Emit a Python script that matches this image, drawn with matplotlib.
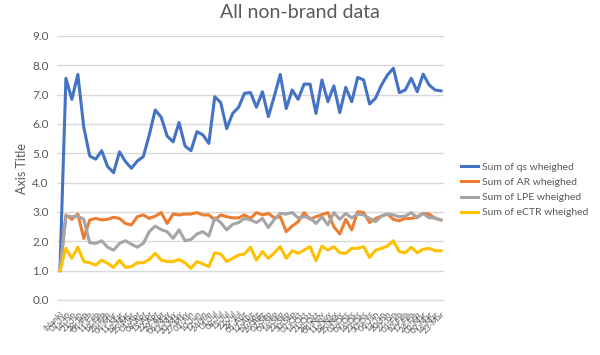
import numpy as np
import pandas as pd
import matplotlib
matplotlib.use("Agg")
import matplotlib.pyplot as plt

plt.rcParams['font.family'] = ['Lato', 'DejaVu Sans']

# values
qs = [1.06, 7.56, 6.84, 7.69, 5.89, 4.91, 4.80, 5.09, 4.55, 4.34, 5.05, 4.72, 4.49,
      4.74, 4.89, 5.63, 6.48, 6.23, 5.59, 5.39, 6.05, 5.25, 5.09, 5.74, 5.63, 5.34,
      6.93, 6.73, 5.84, 6.36, 6.57, 7.05, 7.07, 6.57, 7.10, 6.25, 6.95, 7.69, 6.53,
      7.16, 6.84, 7.36, 7.36, 6.36, 7.50, 6.76, 7.30, 6.39, 7.25, 6.76, 7.59, 7.50,
      6.68, 6.88, 7.33, 7.67, 7.90, 7.07, 7.16, 7.56, 7.10, 7.70, 7.33, 7.16, 7.13]
ar = [1.00, 2.90, 2.75, 2.93, 2.10, 2.73, 2.78, 2.73, 2.75, 2.82, 2.78, 2.61, 2.56,
      2.84, 2.90, 2.78, 2.86, 2.98, 2.61, 2.93, 2.90, 2.93, 2.93, 2.98, 2.90, 2.90,
      2.73, 2.90, 2.84, 2.80, 2.80, 2.90, 2.78, 2.98, 2.90, 2.95, 2.80, 2.84, 2.33,
      2.52, 2.67, 2.98, 2.75, 2.84, 2.91, 2.98, 2.50, 2.25, 2.75, 2.39, 3.01, 2.98,
      2.64, 2.78, 2.86, 2.93, 2.75, 2.70, 2.78, 2.78, 2.84, 2.95, 2.93, 2.78, 2.73]
lpe = [1.00, 2.86, 2.84, 2.86, 2.75, 1.95, 1.93, 2.02, 1.80, 1.70, 1.93, 2.02, 1.90,
       1.80, 1.93, 2.33, 2.52, 2.40, 2.33, 2.10, 2.39, 2.02, 2.06, 2.25, 2.33, 2.18,
       2.80, 2.64, 2.39, 2.58, 2.64, 2.78, 2.73, 2.64, 2.78, 2.47, 2.75, 2.95, 2.93,
       2.98, 2.80, 2.84, 2.80, 2.61, 2.84, 2.56, 2.98, 2.75, 2.95, 2.80, 2.93, 2.90,
       2.78, 2.67, 2.86, 2.93, 2.90, 2.84, 2.86, 2.98, 2.80, 2.95, 2.80, 2.80, 2.73]
ectr = [1.00, 1.76, 1.42, 1.80, 1.31, 1.27, 1.19, 1.36, 1.25, 1.11, 1.36, 1.11, 1.14,
        1.27, 1.27, 1.38, 1.59, 1.36, 1.31, 1.31, 1.38, 1.27, 1.08, 1.31, 1.23, 1.14,
        1.61, 1.57, 1.31, 1.42, 1.53, 1.57, 1.80, 1.36, 1.65, 1.42, 1.61, 1.82, 1.42,
        1.68, 1.59, 1.70, 1.82, 1.34, 1.84, 1.70, 1.82, 1.61, 1.59, 1.76, 1.76, 1.82,
        1.45, 1.70, 1.76, 1.84, 2.02, 1.65, 1.61, 1.80, 1.61, 1.73, 1.76, 1.68, 1.68]

# category labels (dense, unreadable in the reference)
labels = ['(blank)'] + [d.strftime('%d-%b') for d in pd.date_range('2019-01-07', periods=len(qs) - 1, freq='7D')]

x = np.arange(len(qs))

fig = plt.figure(figsize=(6, 3.55), dpi=100)
ax = fig.add_axes([57 / 600, 1 - 300 / 355, (444 - 57) / 600, (300 - 36) / 355])

ax.plot(x, qs, color='#4472C4', lw=2.2, label='Sum of qs wheighed')
ax.plot(x, ar, color='#ED7D31', lw=2.2, label='Sum of AR wheighed')
ax.plot(x, lpe, color='#A5A5A5', lw=2.2, label='Sum of LPE wheighed')
ax.plot(x, ectr, color='#FFC000', lw=2.2, label='Sum of eCTR wheighed')

ax.set_xlim(-0.5, len(qs) - 0.5)
ax.set_ylim(0, 9)
ax.set_yticks(np.arange(0, 9.5, 1.0))
ax.set_yticklabels([f'{v:.1f}' for v in np.arange(0, 9.5, 1.0)], fontsize=8.5, color='#595959')
ax.yaxis.grid(True, color='#D9D9D9', lw=1)
ax.set_axisbelow(True)
ax.tick_params(axis='y', length=0, pad=6)
ax.tick_params(axis='x', length=0, pad=7)
ax.set_xticks(x)
ax.set_xticklabels(labels, rotation=45, ha='right', rotation_mode='anchor', fontsize=6, color='#595959')
for s in ['top', 'right', 'left']:
    ax.spines[s].set_visible(False)
ax.spines['bottom'].set_color('#D9D9D9')

ax.set_ylabel('Axis Title', fontsize=9, color='#595959', labelpad=3)
fig.text(300 / 600, 1 - 12 / 355, 'All non-brand data', ha='center', va='center', fontsize=14, color='#595959')

fig.legend(loc='center left', bbox_to_anchor=(452 / 600, 1 - 190 / 355), frameon=False, fontsize=7.5,
           labelcolor='#595959', handlelength=1.6, handletextpad=0.4, labelspacing=0.55)

fig.savefig('out.png', dpi=100)
